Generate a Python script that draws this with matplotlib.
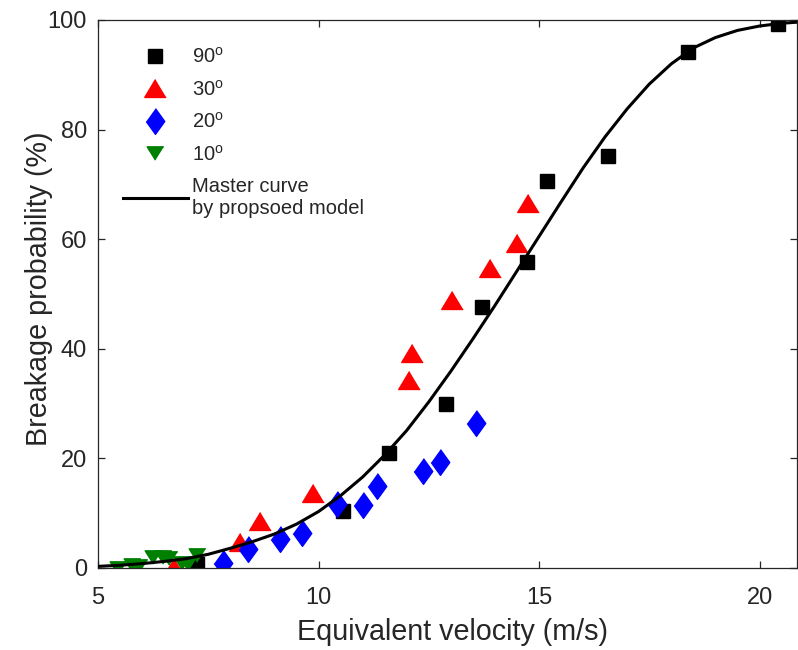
import matplotlib
matplotlib.use("Agg")
import matplotlib.pyplot as plt

plt.rcParams['font.family'] = ['Liberation Sans', 'DejaVu Sans']
plt.rcParams['mathtext.fontset'] = 'custom'
plt.rcParams['mathtext.rm'] = 'Liberation Sans'

# ---- data ----
v90 = [7.24, 10.56, 11.60, 12.89, 13.71, 14.73, 15.18, 16.56, 18.38, 20.42]
p90 = [0.7, 10.4, 21.0, 29.9, 47.6, 55.8, 70.6, 75.2, 94.2, 99.3]

v30 = [6.72, 8.22, 8.67, 9.88, 12.05, 12.12, 13.03, 13.89, 14.50, 14.75]
p30 = [0.2, 4.7, 8.6, 13.7, 34.3, 39.2, 48.9, 54.7, 59.3, 66.6]

v20 = [7.83, 8.40, 9.13, 9.63, 10.42, 11.01, 11.33, 12.37, 12.76, 13.57]
p20 = [0.9, 3.5, 5.3, 6.4, 11.7, 11.5, 15.0, 17.7, 19.3, 26.5]

v10 = [5.45, 5.77, 5.93, 6.25, 6.47, 6.62, 6.90, 7.04, 7.24]
p10 = [0.0, 0.5, 0.4, 2.0, 2.0, 1.8, 0.9, 0.7, 2.4]

v_curve = [5.0, 5.5, 6.0, 6.5, 7.0, 7.5, 8.0, 8.5, 9.0, 9.5, 10.0, 10.5, 11.0,
           11.5, 12.0, 12.5, 13.0, 13.5, 14.0, 14.5, 15.0, 15.5, 16.0, 16.5,
           17.0, 17.5, 18.0, 18.5, 19.0, 19.5, 20.0, 20.5, 20.85]
p_curve = [0.3, 0.5, 0.8, 1.2, 1.7, 2.5, 3.6, 4.8, 6.2, 8.0, 10.3, 13.2, 16.6,
           20.6, 25.1, 30.3, 35.9, 41.8, 47.9, 54.2, 60.5, 66.8, 73.0, 78.7,
           83.8, 88.3, 92.0, 94.9, 96.8, 98.1, 98.9, 99.4, 99.6]

labels = ['90$^{\\mathrm{o}}$', '30$^{\\mathrm{o}}$', '20$^{\\mathrm{o}}$',
          '10$^{\\mathrm{o}}$', 'Master curve\nby propsoed model']
xticks = [5, 10, 15, 20]
yticks = [0, 20, 40, 60, 80, 100]

# ---- figure ----
fig = plt.figure(figsize=(7.98, 6.5), dpi=100)
ax = fig.add_axes([98 / 798, (650 - 568) / 650, (797 - 98) / 798, 548 / 650])

up_tri = [(0, 1), (-1.2, -1), (1.2, -1)]
down_tri = [(0, -1), (-1.25, 1), (1.25, 1)]
diamond = [(0, 1), (0.72, 0), (0, -1), (-0.72, 0)]

h90, = ax.plot(v90, p90, linestyle='none', marker='s', ms=10, color='black', label=labels[0])
h30, = ax.plot(v30, p30, linestyle='none', marker=up_tri, ms=15.5, color='#ff0000', label=labels[1])
h20, = ax.plot(v20, p20, linestyle='none', marker=diamond, ms=18.5, color='#0000ff', label=labels[2])
h10, = ax.plot(v10, p10, linestyle='none', marker=down_tri, ms=12, color='#008000', label=labels[3])
hc, = ax.plot(v_curve, p_curve, color='black', lw=2.2, label=labels[4], zorder=5)

ax.set_xlim(5, 20.85)
ax.set_ylim(0, 100)
ax.set_xticks(xticks)
ax.set_yticks(yticks)

tc = '#262626'
for s in ax.spines.values():
    s.set_color(tc)
    s.set_linewidth(0.9)
ax.tick_params(direction='in', length=5, width=0.9, colors=tc, labelsize=17,
               top=True, right=True)
ax.tick_params(axis='x', pad=14)
ax.tick_params(axis='y', pad=8)
ax.set_xlabel('Equivalent velocity (m/s)', fontsize=20.7, color=tc)
ax.set_ylabel('Breakage probability (%)', fontsize=20.7, color=tc)
ax.xaxis.set_label_coords(0.507, -0.091)
ax.yaxis.set_label_coords(-0.064, 0.51)

leg = ax.legend(handles=[h90, h30, h20, h10, hc], loc='upper left',
                bbox_to_anchor=(0.036, 0.951), borderaxespad=0, borderpad=0,
                frameon=False, fontsize=14.5,
                handlelength=3.2, handletextpad=0.22, labelspacing=0.62,
                numpoints=1)
for t in leg.get_texts():
    t.set_color(tc)

fig.savefig('out.png', dpi=100)
